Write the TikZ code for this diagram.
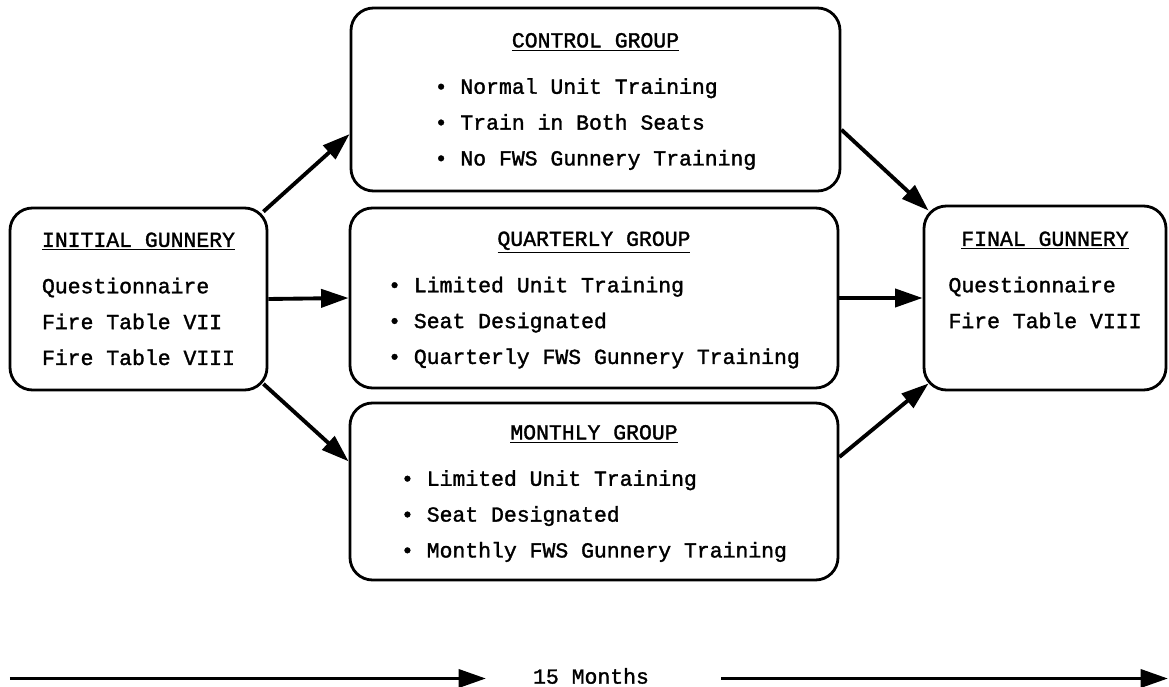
\documentclass[tikz,border=0pt]{standalone}
\usepackage{fontspec}
\usetikzlibrary{arrows.meta,calc}
\newfontfamily\boxfont[FakeBold=1.5]{Liberation Mono}
\newcommand{\grptitle}[1]{\rule{0pt}{14pt}\underline{#1}}

\begin{document}
\begin{tikzpicture}[grp/.style={draw,line width=1.6pt,rounded corners=0.45cm,align=center,inner sep=0pt,font=\boxfont\fontsize{12.2}{20.4}\selectfont},
        flow/.style={line width=2.2pt,-{Triangle[length=0.55cm,width=0.36cm]}}]
        \useasboundingbox (0,0) rectangle (23.38,13.74);

        % the five boxes
        \node[grp,minimum width=5.14cm,minimum height=3.64cm] (init) at (2.77,7.76)
            {\grptitle{INITIAL GUNNERY}\\[6pt]\begin{tabular}[t]{@{}l@{}}Questionnaire\\ Fire Table VII\\ Fire Table VIII\end{tabular}};
        \node[grp,minimum width=9.78cm,minimum height=3.66cm] (ctrl) at (11.91,11.75)
            {\grptitle{CONTROL GROUP}\\[6pt]\begin{tabular}[t]{@{}l@{}}\textbullet\ Normal Unit Training\\ \textbullet\ Train in Both Seats\\ \textbullet\ No FWS Gunnery Training\end{tabular}};
        \node[grp,minimum width=9.76cm,minimum height=3.6cm] (qtr) at (11.88,7.78)
            {\grptitle{QUARTERLY GROUP}\\[6pt]\begin{tabular}[t]{@{}l@{}}\textbullet\ Limited Unit Training\\ \textbullet\ Seat Designated\\ \textbullet\ Quarterly FWS Gunnery Training\end{tabular}};
        \node[grp,minimum width=9.76cm,minimum height=3.54cm] (mon) at (11.88,3.91)
            {\grptitle{MONTHLY GROUP}\\[6pt]\begin{tabular}[t]{@{}l@{}}\textbullet\ Limited Unit Training\\ \textbullet\ Seat Designated\\ \textbullet\ Monthly FWS Gunnery Training\end{tabular}};
        \node[grp,minimum width=4.84cm,minimum height=3.68cm] (fin) at (20.9,7.78)
            {\grptitle{FINAL GUNNERY}\\[6pt]\begin{tabular}[t]{@{}l@{}}Questionnaire\\ Fire Table VIII\\ \mbox{}\end{tabular}};

        % into the groups
        \draw[flow] ($(init.north east)+(-0.1,-0.1)$) -- (ctrl.188);
        \draw[flow] (init.east) -- (qtr.west);
        \draw[flow] ($(init.south east)+(-0.1,0.15)$) -- (mon.173);

        % out of the groups
        \draw[flow] (ctrl.353) -- ($(fin.north west)+(0.12,-0.12)$);
        \draw[flow] (qtr.east) -- (fin.west);
        \draw[flow] (mon.8) -- ($(fin.south west)+(0.12,0.16)$);

        % time line
        \node[font=\boxfont\fontsize{12.2}{14}\selectfont,inner sep=0pt] (dur) at (11.82,0.22) {15 Months};
        \coordinate (ls) at (0.2,0.17);
        \coordinate (le) at (9.72,0.17);
        \coordinate (rs) at (14.42,0.17);
        \coordinate (re) at (23.36,0.17);
        \draw[flow] (ls) -- (le);
        \draw[flow] (rs) -- (re);

    \end{tikzpicture}
\end{document}
